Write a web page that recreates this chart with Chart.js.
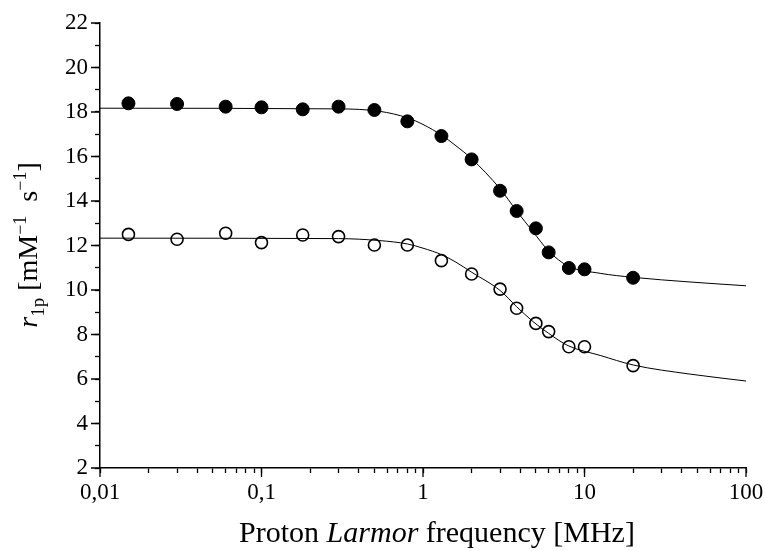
<!DOCTYPE html>
<html lang="en">
<head>
<meta charset="UTF-8">
<title>r1p vs Larmor frequency</title>
<script src="https://cdn.jsdelivr.net/npm/chart.js"></script>
<style>
  html, body { margin: 0; padding: 0; background: #fff; }
</style>
</head>
<body>
<canvas id="myChart" width="765" height="551"></canvas>
<script>
// measured points (MHz, mM^-1 s^-1)
const freqs = [0.015, 0.03, 0.06, 0.1, 0.18, 0.3, 0.5, 0.8, 1.3, 2, 3, 3.8, 5, 6, 8, 10, 20];
const r1Filled = [18.39, 18.36, 18.24, 18.21, 18.12, 18.24, 18.09, 17.58, 16.92, 15.87, 14.46, 13.55, 12.77, 11.69, 10.99, 10.93, 10.55];
const r1Open = [12.50, 12.28, 12.55, 12.13, 12.47, 12.40, 12.02, 12.02, 11.32, 10.72, 10.04, 9.18, 8.50, 8.13, 7.45, 7.45, 6.60];

// fitted curves
const fitFreqs = [0.01, 0.3, 0.54, 0.8, 1.0, 1.31, 1.6, 2, 3, 3.8, 4.8, 6, 7.9, 12.5, 20, 45, 100];
const fitFilled = [18.17, 18.14, 18.03, 17.74, 17.44, 16.95, 16.48, 15.90, 14.55, 13.55, 12.62, 11.75, 11.08, 10.75, 10.57, 10.36, 10.19];
const fitOpen = [12.33, 12.31, 12.22, 12.07, 11.88, 11.58, 11.25, 10.80, 9.98, 9.25, 8.58, 8.05, 7.50, 7.06, 6.63, 6.22, 5.91];

const xMajor = [0.01, 0.1, 1, 10, 100];
const xTickLabels = ['0,01', '0,1', '1', '10', '100'];
const yMin = 2, yMax = 22;

const serif = '"Liberation Serif", "Times New Roman", serif';

function pts(xs, ys) {
  return xs.map((x, i) => ({ x: x, y: ys[i] }));
}

// all log ticks 1..9 per decade
const xTickValues = [];
for (let e = -2; e <= 1; e++) {
  for (let m = 1; m <= 9; m++) xTickValues.push(m * Math.pow(10, e));
}
xTickValues.push(100);

function drawRuns(ctx, runs, cx, baseY) {
  let total = 0;
  runs.forEach(r => { ctx.font = r.font; r.w = ctx.measureText(r.t).width; total += r.w; });
  let x = cx - total / 2;
  runs.forEach(r => {
    ctx.font = r.font;
    ctx.fillText(r.t, x, baseY + (r.dy || 0));
    x += r.w;
  });
}

const extras = {
  id: 'extras',
  afterDraw(chart) {
    const ctx = chart.ctx;
    const { left, bottom } = chart.chartArea;
    const xs = chart.scales.x, ys = chart.scales.y;
    ctx.save();
    // longer major ticks
    ctx.strokeStyle = '#000';
    ctx.lineWidth = 1.3;
    ctx.beginPath();
    xMajor.forEach(v => {
      const px = xs.getPixelForValue(v);
      ctx.moveTo(px, bottom);
      ctx.lineTo(px, bottom + 9);
    });
    for (let v = yMin; v <= yMax; v += 2) {
      const py = ys.getPixelForValue(v);
      ctx.moveTo(left, py);
      ctx.lineTo(left - 9, py);
    }
    ctx.stroke();

    ctx.fillStyle = '#000';
    ctx.textBaseline = 'alphabetic';
    ctx.textAlign = 'left';
    // x title
    drawRuns(ctx, [
      { t: 'Proton ', font: '30px ' + serif },
      { t: 'Larmor', font: 'italic 30px ' + serif },
      { t: ' frequency [MHz]', font: '30px ' + serif }
    ], 437, 542);

    // y title, rotated
    ctx.translate(37, 245);
    ctx.rotate(-Math.PI / 2);
    drawRuns(ctx, [
      { t: 'r', font: 'italic 28px ' + serif },
      { t: '1p', font: '19px ' + serif, dy: 7 },
      { t: ' [mM', font: '28px ' + serif },
      { t: '\u22121', font: '18px ' + serif, dy: -11 },
      { t: '  s', font: '28px ' + serif },
      { t: '\u22121', font: '18px ' + serif, dy: -11 },
      { t: ']', font: '28px ' + serif }
    ], 0, 0);
    ctx.restore();
  }
};

const ctx = document.getElementById('myChart').getContext('2d');
new Chart(ctx, {
  type: 'scatter',
  data: {
    datasets: [
      {
        label: 'fit filled',
        data: pts(fitFreqs, fitFilled),
        showLine: true,
        borderColor: '#000',
        borderWidth: 1,
        pointRadius: 0,
        cubicInterpolationMode: 'monotone',
        order: 3
      },
      {
        label: 'fit open',
        data: pts(fitFreqs, fitOpen),
        showLine: true,
        borderColor: '#000',
        borderWidth: 1,
        pointRadius: 0,
        cubicInterpolationMode: 'monotone',
        order: 4
      },
      {
        label: 'filled',
        data: pts(freqs, r1Filled),
        pointRadius: 6.5,
        backgroundColor: '#000',
        borderColor: '#000',
        borderWidth: 1,
        order: 1
      },
      {
        label: 'open',
        data: pts(freqs, r1Open),
        pointRadius: 6,
        backgroundColor: 'rgba(255,255,255,0)',
        borderColor: '#000',
        borderWidth: 1.6,
        order: 2
      }
    ]
  },
  options: {
    responsive: false,
    animation: false,
    layout: { padding: { top: 23, right: 19, left: 0, bottom: 0 } },
    plugins: {
      legend: { display: false },
      tooltip: { enabled: false }
    },
    scales: {
      x: {
        type: 'logarithmic',
        min: 0.01,
        max: 100,
        border: { color: '#000', width: 1.5 },
        grid: { drawOnChartArea: false, tickLength: 5, tickColor: '#000', tickWidth: 1.3 },
        ticks: {
          autoSkip: false,
          maxRotation: 0,
          color: '#000',
          padding: 6,
          font: { family: serif, size: 23 },
          callback: v => {
            const i = xMajor.indexOf(v);
            return i >= 0 ? xTickLabels[i] : '';
          }
        },
        afterBuildTicks: s => { s.ticks = xTickValues.map(v => ({ value: v })); },
        afterFit: s => {
          s.height = 83;
          s.paddingLeft = 0;
          s.paddingRight = 0;
        }
      },
      y: {
        min: yMin,
        max: yMax,
        border: { color: '#000', width: 1.5 },
        grid: { drawOnChartArea: false, tickLength: 5, tickColor: '#000', tickWidth: 1.3 },
        ticks: {
          stepSize: 1,
          autoSkip: false,
          color: '#000',
          padding: 7,
          font: { family: serif, size: 23 },
          callback: v => (v % 2 === 0 ? String(v) : '')
        },
        afterFit: s => { s.width = 100; }
      }
    }
  },
  plugins: [extras]
});
</script>
</body>
</html>
